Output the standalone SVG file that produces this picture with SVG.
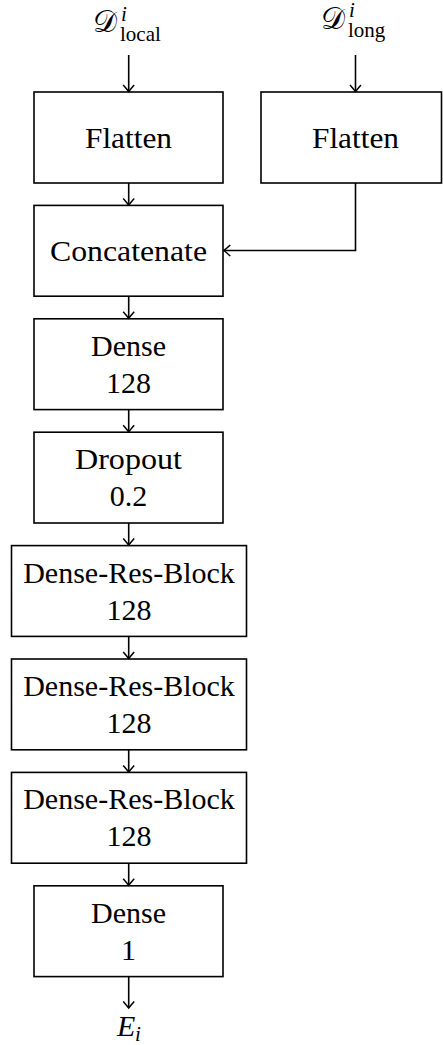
<svg xmlns="http://www.w3.org/2000/svg" width="443" height="1045" viewBox="0 0 443 1045">
<style>
.box{fill:#fff;stroke:#000;stroke-width:1.6}
.lbl{font-family:'Liberation Serif',serif;font-size:30px;text-anchor:middle;fill:#000}
.math{font-family:'Liberation Serif',serif;fill:#000}
.cal{font-family:'DejaVu Serif','DejaVu Sans',serif;font-size:30px}
.it{font-style:italic}
.sm{font-size:21px}
.conn{stroke:#000;stroke-width:1.6;fill:none;marker-end:url(#arr)}
</style>
<defs>
<marker id="arr" markerUnits="userSpaceOnUse" viewBox="-8 -7 10 14" markerWidth="10" markerHeight="14" refX="0" refY="0" orient="auto">
<path d="M-6.5,-5.5 Q-1.8,-1.4 0,0 Q-1.8,1.4 -6.5,5.5" fill="none" stroke="#000" stroke-width="1.5"/>
</marker>
</defs>
<g id="in-local">
<text class="math" x="93" y="32"><tspan class="cal">𝒟</tspan><tspan class="it sm" x="121" y="21">i</tspan><tspan class="sm" x="120" y="41">local</tspan></text>
</g>
<g id="in-long">
<text class="math" x="321" y="29"><tspan class="cal">𝒟</tspan><tspan class="it sm" x="349" y="17">i</tspan><tspan class="sm" x="348" y="37">long</tspan></text>
</g>
<g id="flatten1"><rect class="box" x="34" y="92" width="189" height="91"/><text class="lbl" x="128.5" y="148" textLength="87" lengthAdjust="spacingAndGlyphs">Flatten</text></g>
<g id="flatten2"><rect class="box" x="261" y="92" width="180.5" height="91"/><text class="lbl" x="355.5" y="148" textLength="87" lengthAdjust="spacingAndGlyphs">Flatten</text></g>
<g id="concat"><rect class="box" x="34" y="205.4" width="189" height="90.8"/><text class="lbl" x="128.5" y="261.3" textLength="157" lengthAdjust="spacingAndGlyphs">Concatenate</text></g>
<g id="dense128"><rect class="box" x="34" y="318.8" width="189" height="90.8"/><text class="lbl" x="128.5" y="355.8">Dense</text><text class="lbl" x="128.5" y="392.8">128</text></g>
<g id="dropout"><rect class="box" x="34" y="432.2" width="189" height="90.8"/><text class="lbl" x="128.5" y="469.2" textLength="107" lengthAdjust="spacingAndGlyphs">Dropout</text><text class="lbl" x="128.5" y="506.2">0.2</text></g>
<g id="drb1"><rect class="box" x="11.5" y="545.6" width="235" height="90.8"/><text class="lbl" x="129" y="582.6">Dense-Res-Block</text><text class="lbl" x="129" y="619.6">128</text></g>
<g id="drb2"><rect class="box" x="11.5" y="659" width="235" height="90.8"/><text class="lbl" x="129" y="696">Dense-Res-Block</text><text class="lbl" x="129" y="733">128</text></g>
<g id="drb3"><rect class="box" x="11.5" y="772.4" width="235" height="90.8"/><text class="lbl" x="129" y="809.4">Dense-Res-Block</text><text class="lbl" x="129" y="846.4">128</text></g>
<g id="dense1"><rect class="box" x="34" y="885.8" width="189" height="90.8"/><text class="lbl" x="128.5" y="922.8">Dense</text><text class="lbl" x="128.5" y="959.8">1</text></g>
<g id="out">
<text class="math it" x="117" y="1036" font-size="30">E<tspan class="sm" x="135" y="1041">i</tspan></text>
</g>
<g id="connectors">
<path class="conn" d="M128.7,55 V91.5"/>
<path class="conn" d="M355.5,55 V91.5"/>
<path class="conn" d="M128.7,183 V204.9"/>
<path class="conn" d="M355.5,183 V250.5 H223.8"/>
<path class="conn" d="M128.7,296.2 V318.3"/>
<path class="conn" d="M128.7,409.6 V431.7"/>
<path class="conn" d="M128.7,523 V545.1"/>
<path class="conn" d="M128.7,636.4 V658.5"/>
<path class="conn" d="M128.7,749.8 V771.9"/>
<path class="conn" d="M128.7,863.2 V885.3"/>
<path class="conn" d="M128.7,976.6 V1008"/>
</g>
</svg>
